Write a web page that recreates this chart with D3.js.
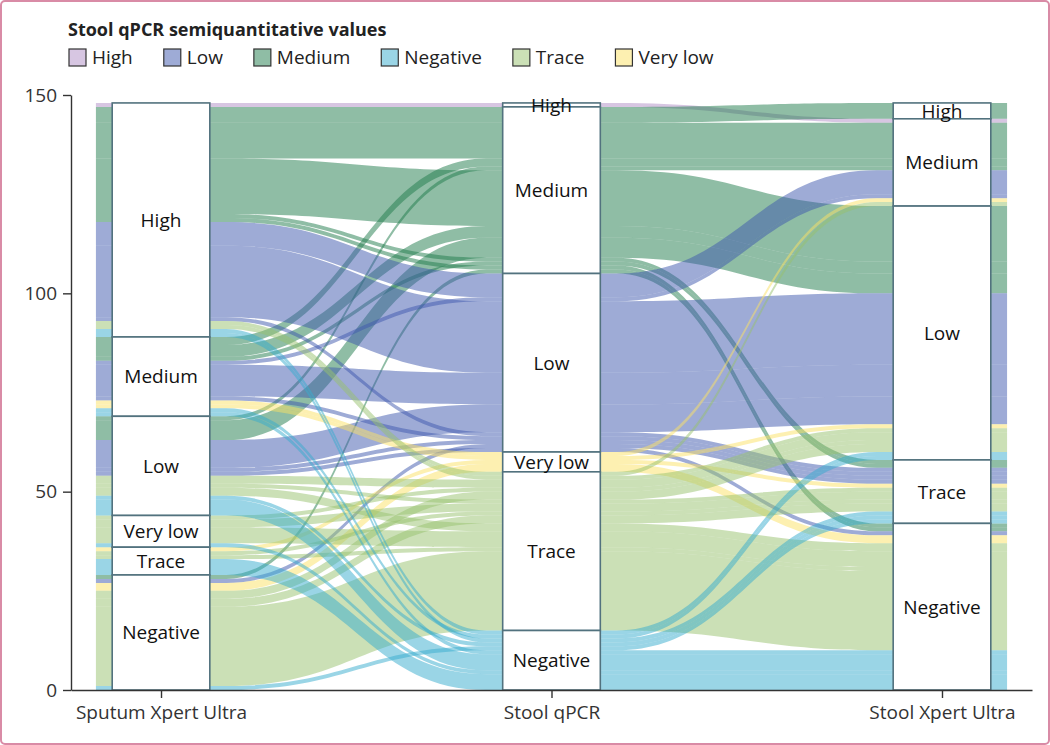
<!DOCTYPE html>
<html>
<head>
<meta charset="utf-8">
<script src="https://cdn.jsdelivr.net/npm/d3@7"></script>
<style>
  body { margin: 0; background: #fff; }
  svg { display: block; }
  text { font-family: "Open Sans", "Noto Sans", sans-serif; }
</style>
</head>
<body>
<svg id="chart" width="1050" height="745"></svg>
<script>
// ---------------- data ----------------
const axisTitles = ["Sputum Xpert Ultra", "Stool qPCR", "Stool Xpert Ultra"];
const sputumLevels = ["High", "Medium", "Low", "Very low", "Trace", "Negative"];
const qpcrLevels = ["High", "Medium", "Low", "Very low", "Trace", "Negative"];
const xpertLevels = ["High", "Medium", "Low", "Trace", "Negative"];
const legendTitle = "Stool qPCR semiquantitative values";
const legendLevels = ["High", "Low", "Medium", "Negative", "Trace", "Very low"];
const legendColors = ["#af8dc5", "#3d57ad", "#1f7b4b", "#35abcd", "#97c16d", "#fbe163"];
const yTicks = [0, 50, 100, 150];

// one entry per alluvium (patient group): sputum Xpert, stool qPCR, stool Xpert, count
const flowSputum = [
  "High",
  "High","High","High","High","High","Medium","Medium","Medium","Low","Low","Negative",
  "High","High","High","Medium","Medium","Medium","Low","Low","Low","Negative",
  "Medium","Medium","Trace","Negative",
  "High","High","Low","Low","Low","Very low","Very low","Very low","Trace","Trace","Negative","Negative","Negative",
  "High","High","Medium","Medium","Low","Low","Very low","Trace","Negative"
];
const flowQpcr = [
  "High",
  "Medium","Medium","Medium","Medium","Medium","Medium","Medium","Medium","Medium","Medium","Medium",
  "Low","Low","Low","Low","Low","Low","Low","Low","Low","Low",
  "Very low","Very low","Very low","Very low",
  "Trace","Trace","Trace","Trace","Trace","Trace","Trace","Trace","Trace","Trace","Trace","Trace","Trace",
  "Negative","Negative","Negative","Negative","Negative","Negative","Negative","Negative","Negative"
];
const flowXpert = [
  "Medium",
  "High","Medium","Low","Trace","Negative","Medium","Low","Trace","Medium","Low","Negative",
  "Medium","Low","Trace","Medium","Low","Trace","Low","Trace","Negative","Trace",
  "Medium","Low","Trace","Negative",
  "Medium","Low","Low","Trace","Negative","Low","Trace","Negative","Trace","Negative","Low","Trace","Negative",
  "Low","Trace","Low","Negative","Trace","Negative","Negative","Negative","Trace"
];
const flowCount = [
  1,
  4, 9, 14, 1, 1, 2, 3, 1, 1, 5, 1,
  6, 18, 1, 1, 8, 1, 7, 1, 1, 1,
  1, 1, 1, 2,
  1, 1, 2, 1, 2, 1, 2, 4, 1, 1, 2, 2, 20,
  1, 1, 1, 1, 1, 4, 1, 4, 1
];

// ---------------- layout ----------------
const svg = d3.select("#chart");
const W = 1050, H = 745;
const x = d3.scalePoint().domain(axisTitles).range([71, 1032]).padding(0.2305);
const y = d3.scaleLinear().domain([0, 150]).range([690, 95]);
const step = x.step();
const flowHalf = step / 6;     // alluvium width = 1/3
const boxHalf = step / 8;      // stratum width = 1/4

const colorOf = d3.scaleOrdinal().domain(legendLevels).range(legendColors);

// frame
svg.append("rect").attr("x", 1).attr("y", 1).attr("width", W - 2).attr("height", H - 2)
  .attr("rx", 4).attr("fill", "#fff").attr("stroke", "#d98ba6").attr("stroke-width", 2);

const N = flowCount.length;
const axisLevels = [sputumLevels, qpcrLevels, xpertLevels];
const axisVals = [flowSputum, flowQpcr, flowXpert];
const lodeOrders = [[0, 1, 2], [1, 2, 0], [2, 1, 0]];
const total = d3.sum(flowCount);

const lodes = lodeOrders.map(ord => {
  const idx = d3.range(N).sort((i, j) => {
    for (const k of ord) {
      const d = axisLevels[k].indexOf(axisVals[k][i]) - axisLevels[k].indexOf(axisVals[k][j]);
      if (d) return d;
    }
    return i - j;
  });
  const out = [];
  let top = total;
  idx.forEach(i => { out[i] = { hi: top, lo: top - flowCount[i] }; top -= flowCount[i]; });
  return out;
});

const K = 0.47;
function curve(x0, y0, x1, y1) {
  const dx = x1 - x0;
  return `C${x0 + K * dx},${y0} ${x1 - K * dx},${y1} ${x1},${y1}`;
}
function ribbonPath(i) {
  const xs = axisTitles.map(a => x(a));
  const tops = lodes.map(l => y(l[i].hi));
  const bots = lodes.map(l => y(l[i].lo));
  let p = `M${xs[0] - flowHalf},${tops[0]} L${xs[0] + flowHalf},${tops[0]} `;
  for (let a = 1; a < 3; a++) {
    p += curve(xs[a - 1] + flowHalf, tops[a - 1], xs[a] - flowHalf, tops[a]) + ` L${xs[a] + flowHalf},${tops[a]} `;
  }
  p += `L${xs[2] + flowHalf},${bots[2]} L${xs[2] - flowHalf},${bots[2]} `;
  for (let a = 2; a > 0; a--) {
    p += curve(xs[a] - flowHalf, bots[a], xs[a - 1] + flowHalf, bots[a - 1]) + ` L${xs[a - 1] - flowHalf},${bots[a - 1]} `;
  }
  return p + "Z";
}

svg.append("g").selectAll("path").data(d3.range(N)).join("path")
  .attr("d", i => ribbonPath(i))
  .attr("fill", i => colorOf(flowQpcr[i]))
  .attr("fill-opacity", 0.5)
  .attr("stroke", "none");

// strata boxes
const strata = [];
axisTitles.forEach((title, a) => {
  let top = total;
  axisLevels[a].forEach(lv => {
    const n = d3.sum(d3.range(N).filter(i => axisVals[a][i] === lv), i => flowCount[i]);
    if (n > 0) { strata.push({ title, lv, hi: top, lo: top - n }); top -= n; }
  });
});
const sg = svg.append("g");
sg.selectAll("rect").data(strata).join("rect")
  .attr("x", d => x(d.title) - boxHalf).attr("width", 2 * boxHalf)
  .attr("y", d => y(d.hi)).attr("height", d => y(d.lo) - y(d.hi))
  .attr("fill", "#fff").attr("stroke", "#52727e").attr("stroke-width", 1.6);
sg.selectAll("text").data(strata).join("text")
  .attr("x", d => x(d.title)).attr("y", d => y((d.hi + d.lo) / 2))
  .attr("dy", "0.36em").attr("text-anchor", "middle")
  .attr("font-size", 19).attr("fill", "#111").text(d => d.lv);

// axes
const yAxis = svg.append("g").attr("transform", "translate(71,0)")
  .call(d3.axisLeft(y).tickValues(yTicks).tickSize(8).tickSizeOuter(0).tickPadding(6));
const xAxis = svg.append("g").attr("transform", "translate(0,690)")
  .call(d3.axisBottom(x).tickSize(8).tickSizeOuter(0).tickPadding(8));
[yAxis, xAxis].forEach(g => {
  g.attr("font-family", null).attr("font-size", null);
  g.select(".domain").attr("stroke", "#333").attr("stroke-width", 1.4);
  g.selectAll(".tick line").attr("stroke", "#333").attr("stroke-width", 1.4);
  g.selectAll(".tick text").attr("font-size", 19).attr("fill", "#333")
    .style("font-family", '"Open Sans", sans-serif');
});

// legend
svg.append("text").attr("x", 68).attr("y", 36).attr("font-size", 18).attr("font-weight", 700)
  .attr("fill", "#222").text(legendTitle);
let lx = 69;
const lg = svg.append("g");
legendLevels.forEach((lv, k) => {
  lg.append("rect").attr("x", lx).attr("y", 49).attr("width", 17).attr("height", 17)
    .attr("fill", "#fff");
  lg.append("rect").attr("x", lx).attr("y", 49).attr("width", 17).attr("height", 17)
    .attr("fill", legendColors[k]).attr("fill-opacity", 0.5).attr("stroke", "#333").attr("stroke-width", 1.2);
  const t = lg.append("text").attr("x", lx + 23).attr("y", 64).attr("font-size", 19)
    .attr("fill", "#222").text(lv);
  lx += 23 + t.node().getComputedTextLength() + 31;
});
</script>
</body>
</html>
